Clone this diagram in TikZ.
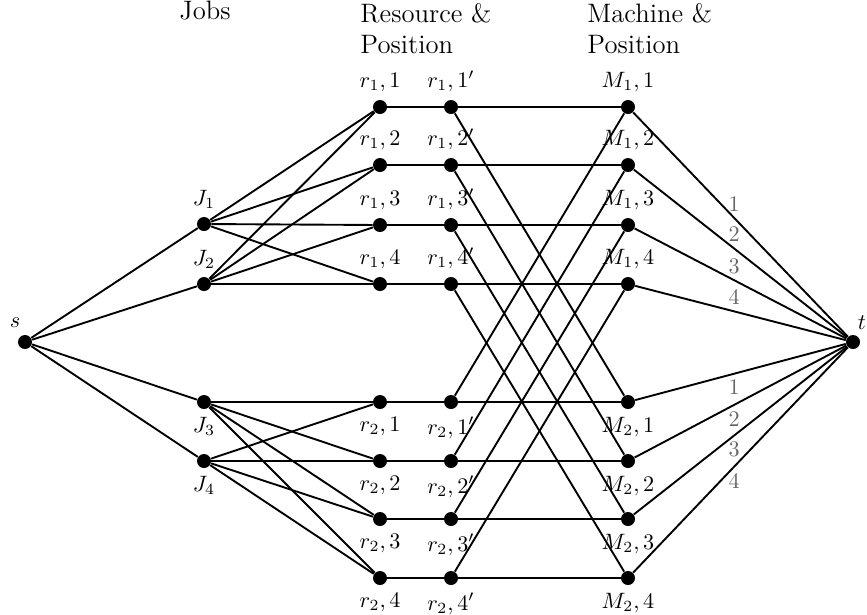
\documentclass[tikz,border=0pt]{standalone}
\begin{document}
\begin{tikzpicture}[x=0.45pt,y=-0.45pt,
  dot/.style={circle,fill=black,inner sep=0pt,minimum size=6.3pt},
  edge/.style={line width=0.85pt},
  wlab/.style={text=black!60,inner sep=2.5pt},
  hdr/.style={font=\large,align=left,inner sep=0pt}]
\useasboundingbox (0,0) rectangle (867,614);
% headers
\node[hdr,anchor=base] (hj) at (205,19) {Jobs};
\node[hdr,anchor=north west] (hr) at (360,3) {Resource \&\\Position};
\node[hdr,anchor=north west] (hm) at (587,3) {Machine \&\\Position};
% source / sink
\node[dot] (s) at (25,342) {};
\node[dot] (t) at (853,342) {};
\node[inner sep=0pt] (sl) at (15,323) {$s$};
\node[inner sep=0pt] (tl) at (862,323) {$t$};
% jobs
\node[dot,label=above:$J_1$] (J1) at (204,224) {};
\node[dot,label=above:$J_2$] (J2) at (204,284) {};
\node[dot,label=below:$J_3$] (J3) at (204,402) {};
\node[dot,label=below:$J_4$] (J4) at (204,461) {};
% resource 1 and machine 1
\foreach \k/\y in {1/107,2/165,3/225,4/284}{
  \node[dot,label=above:{$r_1,\k$}] (ra\k) at (380,\y) {};
  \node[dot,label=above:{$r_1,\k'$}] (rpa\k) at (451,\y) {};
  \node[dot,label=above:{$M_1,\k$}] (ma\k) at (628,\y) {};
}
% resource 2 and machine 2
\foreach \k/\y in {1/402,2/461,3/519,4/578}{
  \node[dot,label=below:{$r_2,\k$}] (rb\k) at (380,\y) {};
  \node[dot,label=below:{$r_2,\k'$}] (rpb\k) at (451,\y) {};
  \node[dot,label=below:{$M_2,\k$}] (mb\k) at (628,\y) {};
}
% edges
\foreach \j in {J1,J2,J3,J4} \draw[edge] (s) -- (\j);
\foreach \k in {1,2,3,4}{
  \draw[edge] (J1) -- (ra\k);
  \draw[edge] (J2) -- (ra\k);
  \draw[edge] (J3) -- (rb\k);
  \draw[edge] (J4) -- (rb\k);
  \draw[edge] (ra\k) -- (rpa\k) -- (ma\k);
  \draw[edge] (rb\k) -- (rpb\k) -- (mb\k);
  \draw[edge] (rpa\k) -- (mb\k);
  \draw[edge] (rpb\k) -- (ma\k);
  \draw[edge] (ma\k) -- node[pos=0.47,above,wlab] {\k} (t);
  \draw[edge] (mb\k) -- node[pos=0.47,below,wlab] {\k} (t);
}
\end{tikzpicture}
\end{document}
